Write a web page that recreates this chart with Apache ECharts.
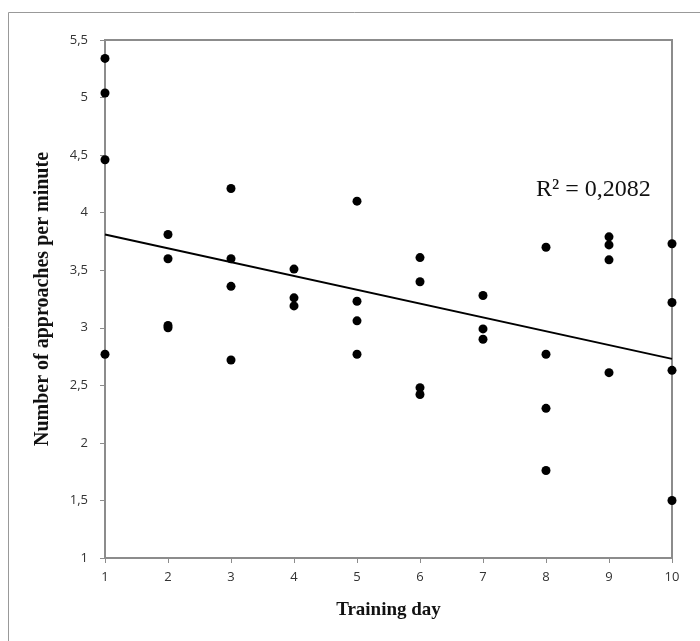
<!DOCTYPE html>
<html>
<head>
<meta charset="utf-8">
<script src="https://cdn.jsdelivr.net/npm/echarts@6/dist/echarts.min.js"></script>
<style>
  html, body { margin: 0; padding: 0; background: #fff; }
  #main { width: 700px; height: 641px; }
</style>
</head>
<body>
<div id="main"></div>
<script>
// training day of each observation
var days = [1, 1, 1, 1,
  2, 2, 2, 2,
  3, 3, 3, 3,
  4, 4, 4,
  5, 5, 5, 5,
  6, 6, 6, 6,
  7, 7, 7,
  8, 8, 8, 8,
  9, 9, 9, 9,
  10, 10, 10, 10]
// approaches per minute
var rates = [5.34, 5.04, 4.46, 2.77,
  3.81, 3.60, 3.02, 3.00,
  4.21, 3.60, 3.36, 2.72,
  3.51, 3.26, 3.19,
  4.10, 3.23, 3.06, 2.77,
  3.61, 3.40, 2.48, 2.42,
  3.28, 2.99, 2.90,
  3.70, 2.77, 2.30, 1.76,
  3.79, 3.72, 3.59, 2.61,
  3.73, 3.22, 2.63, 1.50]
// linear trend read at both ends
var trendX = [1, 10]
var trendY = [3.81, 2.73]
var r2Text = 'R² = 0,2082'

var points = []
for (var i = 0; i < days.length; i++) {
  points.push([days[i], rates[i]])
}
var trend = []
for (var j = 0; j < trendX.length; j++) {
  trend.push([trendX[j], trendY[j]])
}

var chart = echarts.init(document.getElementById('main'))
var serif = '"Liberation Serif", "DejaVu Serif", serif'
var sans = '"Open Sans", "Liberation Sans", sans-serif'

chart.setOption({
  animation: false,
  grid: {
    left: 105,
    top: 40,
    right: 28,
    bottom: 83,
    show: true,
    borderColor: '#8c8c8c',
    borderWidth: 2
  },
  xAxis: {
    type: 'value',
    min: 1,
    max: 10,
    interval: 1,
    name: 'Training day',
    nameLocation: 'middle',
    nameGap: 43,
    nameTextStyle: { fontFamily: serif, fontWeight: 'bold', fontSize: 19, color: '#111' },
    axisLine: { lineStyle: { color: '#8c8c8c', width: 2 } },
    axisTick: { show: true, length: 5, lineStyle: { color: '#8c8c8c' } },
    axisLabel: { fontFamily: sans, fontSize: 13, color: '#333', margin: 13 },
    splitLine: { show: false }
  },
  yAxis: {
    type: 'value',
    min: 1,
    max: 5.5,
    interval: 0.5,
    name: 'Number of approaches per minute',
    nameLocation: 'middle',
    nameGap: 52,
    nameTextStyle: { fontFamily: serif, fontWeight: 'bold', fontSize: 20, color: '#111' },
    axisLine: { lineStyle: { color: '#8c8c8c', width: 2 } },
    axisTick: { show: true, length: 5, lineStyle: { color: '#8c8c8c' } },
    axisLabel: {
      fontFamily: sans, fontSize: 13, color: '#333', margin: 17,
      formatter: function (v) { return String(v).replace('.', ',') }
    },
    splitLine: { show: false }
  },
  graphic: [{
    type: 'rect',
    shape: { x: 8.5, y: 12.5, width: 700, height: 640 },
    style: { fill: null, stroke: '#999', lineWidth: 1 },
    silent: true,
    z: -1
  }, {
    type: 'text',
    left: 536,
    top: 178,
    style: { text: r2Text, fontFamily: serif, fontSize: 24, fill: '#111' }
  }],
  series: [{
    type: 'scatter',
    data: points,
    symbolSize: 9,
    itemStyle: { color: '#000', opacity: 1 },
    z: 3
  }, {
    type: 'line',
    data: trend,
    symbol: 'none',
    lineStyle: { color: '#000', width: 2 },
    z: 2
  }]
})
</script>
</body>
</html>
